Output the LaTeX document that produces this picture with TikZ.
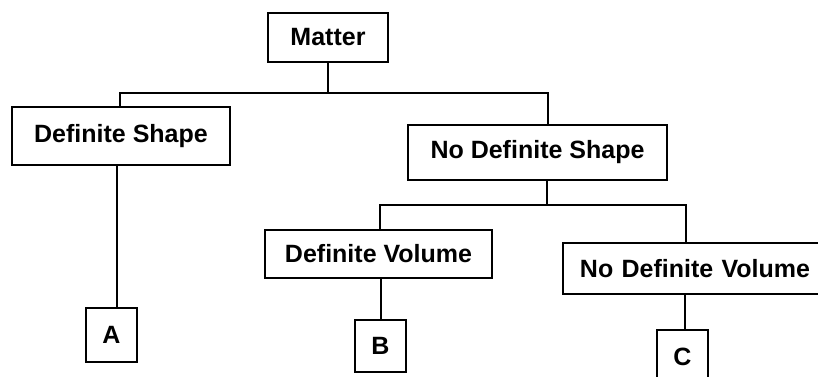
\documentclass[tikz,border=0pt]{standalone}
\usepackage{fontspec}
\setmainfont{Liberation Sans}
\begin{document}
\begin{tikzpicture}[x=1pt,y=-1pt,
  box/.style={draw=black,line width=2.6pt,fill=white,inner sep=0pt,align=center,
    font=\fontsize{25}{29}\selectfont\bfseries},
  link/.style={draw=black,line width=2.6pt}]
\useasboundingbox (0,0) rectangle (818,376);
\clip (0,0) rectangle (818,376);
\fill[white] (0,0) rectangle (818,376);
% nodes
\node[box,minimum width=120pt,minimum height=49pt] (matter) at (328,37.5) {Matter};
\node[box,minimum width=218pt,minimum height=58pt] (ds) at (121,136) {Definite Shape};
\node[box,minimum width=259pt,minimum height=55pt] (nds) at (537.5,152.5) {No Definite Shape};
\node[box,minimum width=51pt,minimum height=54pt] (A) at (111.5,335) {A};
\node[box,minimum width=227pt,minimum height=48pt] (dv) at (378.5,254) {Definite Volume};
\node[box,minimum width=264pt,minimum height=51pt,text width=252pt] (ndv) at (695,268.5) {No Definite Volume};
\node[box,minimum width=51pt,minimum height=52pt] (B) at (380.5,346) {B};
\node[box,minimum width=51pt,minimum height=54pt,text depth=0pt] (C) at (682.5,357) {C};
\coordinate (j1) at (328,93);
\coordinate (j2) at (547,205);
% connectors
\draw[link] (matter.south) -- (j1);
\draw[link] (ds.north -| 120,0) |- (j1) -| (nds.north -| 548,0);
\draw[link] (nds.south -| j2) -- (j2);
\draw[link] (dv.north -| 380,0) |- (j2) -| (ndv.north -| 686,0);
\draw[link] (ds.south -| 117,0) -- (A.north -| 117,0);
\draw[link] (dv.south -| 381,0) -- (B.north -| 381,0);
\draw[link] (ndv.south -| 685,0) -- (C.north -| 685,0);
\end{tikzpicture}
\end{document}
